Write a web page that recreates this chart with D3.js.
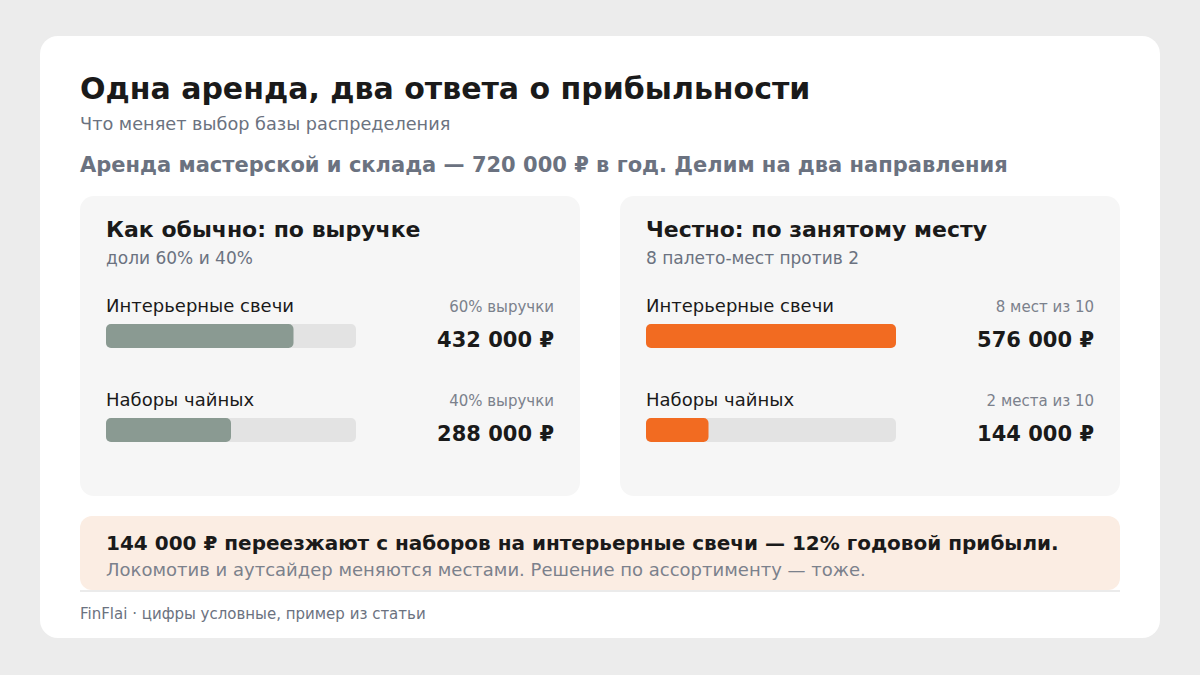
<!DOCTYPE html>
<html lang="ru">
<head>
<meta charset="UTF-8">
<title>Одна аренда, два ответа о прибыльности</title>
<style>
  html, body { margin:0; padding:0; background:#ececec; }
  svg { display:block; font-family:"DejaVu Sans", sans-serif; }
</style>
</head>
<body>
<div class="chart"></div>
<script src="https://d3js.org/d3.v7.min.js"></script>
<script>
const categories = ["Интерьерные свечи", "Наборы чайных"];
const revenueValues = [432000, 288000];
const spaceValues = [576000, 144000];
const revenueNotes = ["60% выручки", "40% выручки"];
const spaceNotes = ["8 мест из 10", "2 места из 10"];

const panels = [
  {title: "Как обычно: по выручке", sub: "доли 60% и 40%", values: revenueValues, notes: revenueNotes, color: "#8a9a92", x: 80},
  {title: "Честно: по занятому месту", sub: "8 палето-мест против 2", values: spaceValues, notes: spaceNotes, color: "#f26b21", x: 620}
];

const width = 1200, height = 675;
const svg = d3.select('.chart').append('svg')
  .attr('width', width).attr('height', height);

// фон и карточка
svg.append('rect').attr('width', width).attr('height', height).attr('fill', '#ececec');
svg.append('rect').attr('x', 40).attr('y', 36).attr('width', 1120).attr('height', 602)
  .attr('rx', 18).attr('fill', '#fff');

// заголовки
svg.append('text').attr('x', 80).attr('y', 99)
  .attr('font-size', 30).attr('font-weight', 700).attr('fill', '#1a1a1a')
  .text("Одна аренда, два ответа о прибыльности");
svg.append('text').attr('x', 80).attr('y', 130)
  .attr('font-size', 17.7).attr('fill', '#6b7280')
  .text("Что меняет выбор базы распределения");
svg.append('text').attr('x', 80).attr('y', 172)
  .attr('font-size', 21).attr('font-weight', 700).attr('fill', '#6b7280')
  .text("Аренда мастерской и склада — 720 000 ₽ в год. Делим на два направления");

const ru = d3.formatLocale({decimal: ",", thousands: "\u00a0", grouping: [3], currency: ["", "\u00a0₽"]});
const fmt = ru.format("$,.0f");

// общая шкала для обеих панелей
const allValues = revenueValues.concat(spaceValues);
const xScale = d3.scaleLinear().domain([0, d3.max(allValues)]).range([0, 250]);
const yScale = d3.scaleBand().domain(categories).range([0, 188]);

panels.forEach(p => {
  const g = svg.append('g').attr('transform', `translate(${p.x},196)`);
  g.append('rect').attr('width', 500).attr('height', 300).attr('rx', 14).attr('fill', '#f6f6f6');
  g.append('text').attr('x', 26).attr('y', 41)
    .attr('font-size', 22).attr('font-weight', 700).attr('fill', '#1a1a1a').text(p.title);
  g.append('text').attr('x', 26).attr('y', 68)
    .attr('font-size', 17).attr('fill', '#6b7280').text(p.sub);

  const rows = g.selectAll('.row')
    .data(categories)
    .join('g')
    .attr('class', 'row')
    .attr('transform', d => `translate(26,${96 + yScale(d)})`);

  rows.append('text').attr('y', 20)
    .attr('font-size', 18).attr('fill', '#1a1a1a').text(d => d);
  rows.append('text').attr('x', 448).attr('y', 20).attr('text-anchor', 'end')
    .attr('font-size', 15).attr('fill', '#7b818c').text((d, i) => p.notes[i]);
  rows.append('rect').attr('y', 32).attr('height', 24).attr('rx', 5)
    .attr('width', xScale.range()[1]).attr('fill', '#e3e3e3');
  rows.append('rect').attr('y', 32).attr('height', 24).attr('rx', 5)
    .attr('width', (d, i) => xScale(p.values[i])).attr('fill', p.color);
  rows.append('text').attr('x', 448).attr('y', 54.5).attr('text-anchor', 'end')
    .attr('font-size', 21).attr('font-weight', 700).attr('fill', '#1a1a1a')
    .text((d, i) => fmt(p.values[i]));
});

// вывод
svg.append('rect').attr('x', 80).attr('y', 516).attr('width', 1040).attr('height', 74)
  .attr('rx', 12).attr('fill', '#fbede3');
svg.append('text').attr('x', 106).attr('y', 550)
  .attr('font-size', 20).attr('font-weight', 700).attr('fill', '#1a1a1a')
  .text("144 000 ₽ переезжают с наборов на интерьерные свечи — 12% годовой прибыли.");
svg.append('text').attr('x', 106).attr('y', 576)
  .attr('font-size', 18).attr('fill', '#7b818c')
  .text("Локомотив и аутсайдер меняются местами. Решение по ассортименту — тоже.");
svg.append('line').attr('x1', 80).attr('x2', 1120).attr('y1', 591).attr('y2', 591)
  .attr('stroke', '#e5e5e5').attr('stroke-width', 1.5);
svg.append('text').attr('x', 80).attr('y', 619)
  .attr('font-size', 15).attr('fill', '#6b7280')
  .text("FinFlai · цифры условные, пример из статьи");
</script>
</body>
</html>
